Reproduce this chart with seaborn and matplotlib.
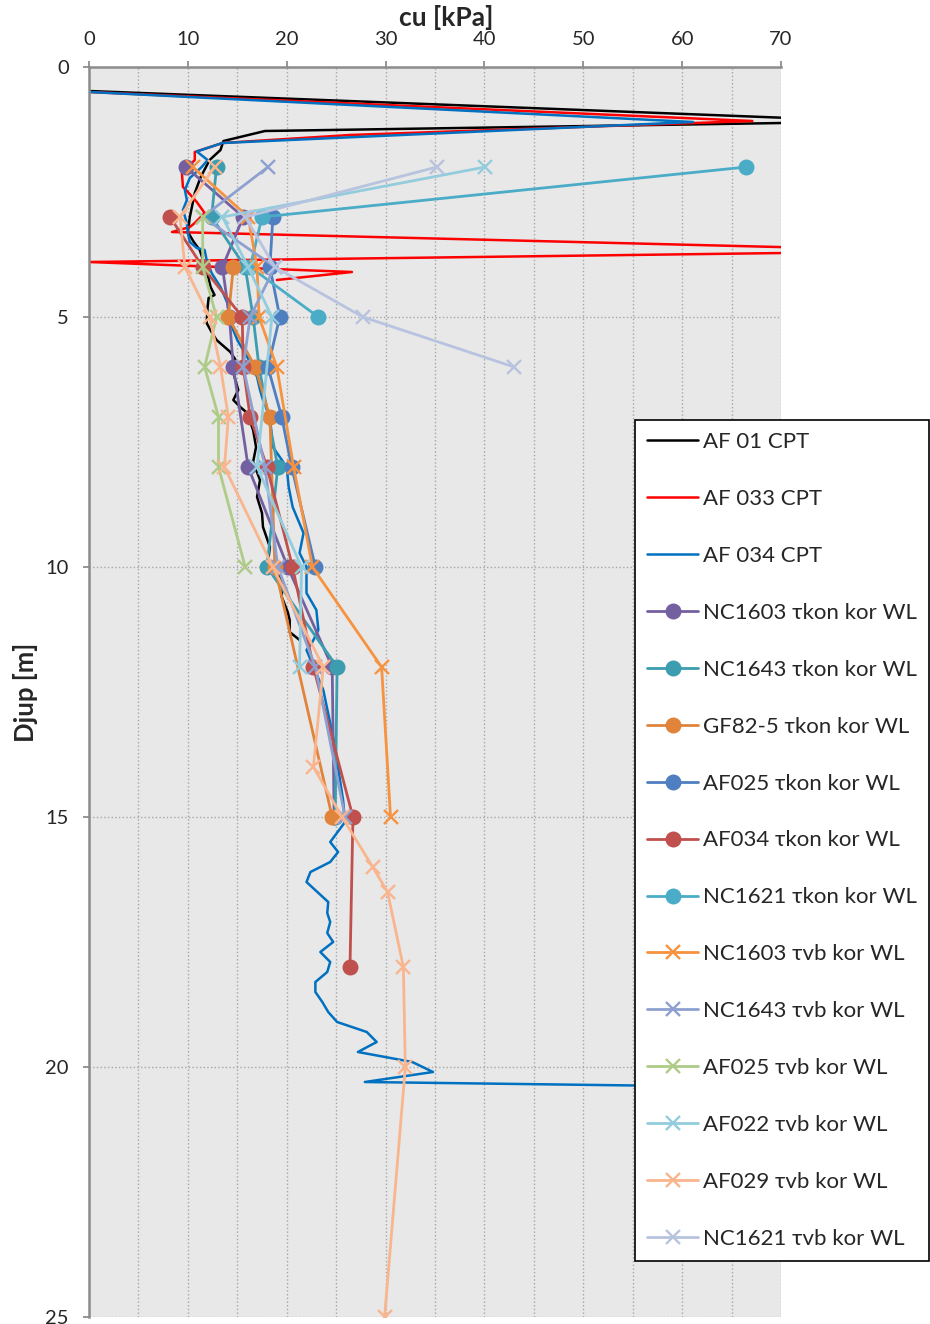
"""
Skjuvhållfasthet cu mot djup - CPT och konförsök / vingförsök
"""

import matplotlib
matplotlib.use('Agg')
import matplotlib.pyplot as plt
import seaborn as sns

# ---- CPT-sonderingar (värde kPa, djup m) ----
af01_cpt_cu = [0, 80, 17.8, 13.6, 13.3, 12.2, 11.3, 10.7, 10.2, 10.0, 10.6, 11.2, 11.6, 12.0,
               12.3, 12.7, 12.1, 12.0, 11.9, 12.4, 12.9, 14.3, 14.8, 14.6, 14.8, 15.1, 14.6,
               15.3, 16.0, 16.6, 16.9, 16.6, 17.3, 17.0, 17.5, 17.6, 18.3, 18.1, 19.5, 19.5,
               20.1, 20.3, 20.3, 21.3]
af01_cpt_djup = [0.48, 1.09, 1.28, 1.48, 1.66, 1.86, 2.2, 2.52, 3.0, 3.3, 3.5, 3.66, 3.9, 4.15,
                 4.4, 4.56, 4.62, 4.8, 5.12, 5.3, 5.46, 5.7, 5.85, 6.1, 6.26, 6.46, 6.66,
                 6.8, 6.92, 7.26, 7.6, 7.9, 8.26, 8.6, 8.92, 9.2, 9.6, 9.9, 10.26, 10.6,
                 10.9, 11.06, 11.3, 11.46]

af033_cpt_cu = [0, 67.1, 26.4, 13.5, 10.7, 10.7, 9.4, 9.5, 10.0, 10.9, 11.7, 10.7, 10.2, 8.4,
                86, 0, 26.6, 19.0]
af033_cpt_djup = [0.5, 1.08, 1.36, 1.52, 1.7, 1.86, 2.12, 2.4, 2.5, 2.7, 2.92, 3.12, 3.2, 3.3,
                  3.68, 3.9, 4.1, 4.26]

af034_cpt_cu = [0, 61.1, 13.5, 10.9, 12.0, 11.4, 10.2, 9.7, 9.9, 9.5, 9.9, 10.0, 10.2, 10.9,
                11.7, 11.9, 12.4, 13.3, 14.0, 14.3, 15.0, 16.0, 17.0, 17.3, 17.6, 18.3, 18.6,
                20.0, 20.2, 20.6, 21.7, 21.3, 22.0, 22.0, 23.0, 23.2, 22.6, 22.0, 23.7, 24.8,
                25.7, 25.9, 24.4, 25.2, 24.4, 22.4, 22.0, 24.2, 24.1, 24.4, 24.1, 24.7, 23.4,
                24.4, 24.1, 22.9, 22.9, 23.6, 24.2, 25.1, 28.1, 29.1, 27.2, 32.7, 34.8, 27.9, 75]
af034_cpt_djup = [0.5, 1.1, 1.52, 1.69, 1.86, 2.0, 2.22, 2.46, 2.66, 2.86, 3.12, 3.32, 3.5, 3.62,
                  3.66, 3.86, 4.12, 4.4, 4.72, 5.12, 5.46, 5.8, 6.2, 6.46, 6.66, 7.0, 7.6,
                  8.0, 8.4, 8.8, 9.32, 9.72, 10.0, 10.52, 10.86, 11.26, 11.5, 11.66, 12.46, 13.5,
                  14.66, 15.1, 15.5, 15.7, 15.9, 16.1, 16.3, 16.7, 16.92, 17.1, 17.32, 17.5, 17.7,
                  17.9, 18.1, 18.3, 18.5, 18.7, 18.9, 19.1, 19.3, 19.5, 19.7, 19.9, 20.1, 20.3, 20.42]

# ---- Konförsök (tkon) ----
nc1603_kon_djup = [2, 3, 4, 5, 6, 8, 10, 12, 15]
nc1603_kon_cu = [9.8, 15.6, 13.5, 14.2, 14.6, 16.1, 20.1, 24.6, 24.8]

nc1643_kon_djup = [2, 3, 4, 5, 6, 8, 10, 12, 15]
nc1643_kon_cu = [12.9, 12.4, 15.8, 16.6, 17.2, 19.1, 18.0, 25.1, 24.9]

gf825_kon_djup = [4, 5, 6, 7, 10, 15]
gf825_kon_cu = [14.6, 14.1, 16.8, 18.3, 18.8, 24.6]

af025_kon_djup = [3, 4, 5, 6, 7, 8, 10]
af025_kon_cu = [18.6, 18.3, 19.3, 18.1, 19.5, 20.5, 22.9]

af034_kon_djup = [3, 4, 5, 6, 7, 8, 10, 12, 15, 18]
af034_kon_cu = [8.2, 11.5, 15.5, 15.6, 16.3, 18.0, 20.6, 22.7, 26.7, 26.4]

nc1621_kon_djup = [2, 3, 4, 5]
nc1621_kon_cu = [66.5, 17.5, 16.3, 23.2]

# ---- Vingförsök (tvb) ----
nc1603_vb_djup = [2, 3, 4, 5, 6, 8, 10, 12, 15]
nc1603_vb_cu = [10.5, 16.1, 17.0, 17.2, 19.0, 20.7, 22.6, 29.6, 30.5]

nc1643_vb_djup = [2, 3, 4, 5, 6, 8, 10, 12, 15]
nc1643_vb_cu = [18.1, 11.5, 18.8, 16.3, 15.6, 17.8, 19.1, 22.9, 25.9]

af025_vb_djup = [3, 4, 5, 6, 7, 8, 10]
af025_vb_cu = [11.5, 11.5, 12.9, 11.7, 13.1, 13.1, 15.8]

af022_vb_djup = [2, 3, 4, 5, 8, 10, 12]
af022_vb_cu = [40.1, 13.5, 16.1, 18.5, 17.0, 21.5, 21.3]

af029_vb_djup = [2, 3, 4, 5, 6, 7, 8, 10, 12, 14, 15, 16, 16.5, 18, 20, 25]
af029_vb_cu = [12.7, 9.2, 9.7, 12.2, 13.3, 14.1, 13.7, 18.6, 23.7, 22.7, 25.6, 28.7, 30.2,
               31.8, 32.0, 29.9]

nc1621_vb_djup = [2, 3, 4, 5, 6]
nc1621_vb_cu = [35.2, 15.8, 18.8, 27.7, 43.0]

x_ticks = [0, 10, 20, 30, 40, 50, 60, 70]
y_ticks = [0, 5, 10, 15, 20, 25]

sns.set_theme(style='white')
plt.rcParams['font.family'] = ['Lato', 'DejaVu Sans']

fig = plt.figure(figsize=(9.3, 13.24), dpi=100)
ax = fig.add_axes([89 / 930, 7 / 1324, 692 / 930, 1250 / 1324])
ax.set_facecolor('#E8E8E8')

# CPT-linjer
cpt = [
    (af01_cpt_cu, af01_cpt_djup, 'AF 01 CPT', 'black'),
    (af033_cpt_cu, af033_cpt_djup, 'AF 033 CPT', '#FF0000'),
    (af034_cpt_cu, af034_cpt_djup, 'AF 034 CPT', '#0070C0'),
]
for cu, djup, namn, farg in cpt:
    sns.lineplot(x=cu, y=djup, sort=False, estimator=None, color=farg,
                 linewidth=1.8, label=namn, ax=ax)

kon = [
    (nc1603_kon_cu, nc1603_kon_djup, 'NC1603 τkon kor WL', '#7460A0'),
    (nc1643_kon_cu, nc1643_kon_djup, 'NC1643 τkon kor WL', '#3C9CB0'),
    (gf825_kon_cu, gf825_kon_djup, 'GF82-5 τkon kor WL', '#E0843B'),
    (af025_kon_cu, af025_kon_djup, 'AF025 τkon kor WL', '#4F7FC0'),
    (af034_kon_cu, af034_kon_djup, 'AF034 τkon kor WL', '#C0504D'),
    (nc1621_kon_cu, nc1621_kon_djup, 'NC1621 τkon kor WL', '#4AACC6'),
]
for cu, djup, namn, farg in kon:
    sns.lineplot(x=cu, y=djup, sort=False, estimator=None, color=farg,
                 linewidth=2.0, marker='o', markersize=11.5, markeredgewidth=0,
                 markerfacecolor=farg, markeredgecolor=farg, label=namn, ax=ax)

vb = [
    (nc1603_vb_cu, nc1603_vb_djup, 'NC1603 τvb kor WL', '#F7923F'),
    (nc1643_vb_cu, nc1643_vb_djup, 'NC1643 τvb kor WL', '#8DA0D0'),
    (af025_vb_cu, af025_vb_djup, 'AF025 τvb kor WL', '#AECB88'),
    (af022_vb_cu, af022_vb_djup, 'AF022 τvb kor WL', '#93CCDD'),
    (af029_vb_cu, af029_vb_djup, 'AF029 τvb kor WL', '#F9B58E'),
    (nc1621_vb_cu, nc1621_vb_djup, 'NC1621 τvb kor WL', '#B8C3DF'),
]
for cu, djup, namn, farg in vb:
    sns.lineplot(x=cu, y=djup, sort=False, estimator=None, color=farg,
                 linewidth=2.0, marker='x', markersize=10.5, markeredgewidth=1.7,
                 markeredgecolor=farg, label=namn, ax=ax)

# axlar
ax.set_xlim(0, 70)
ax.set_ylim(25, 0)
ax.xaxis.tick_top()
ax.set_xticks(x_ticks)
ax.set_xticks([5, 15, 25, 35, 45, 55, 65], minor=True)
ax.set_yticks(y_ticks)
ax.set_xlabel('')
ax.set_ylabel('')
ax.grid(True, which='both', linestyle=':', color='#A6A6A6', linewidth=1.0)
ax.set_axisbelow(True)
for s in ['right', 'bottom']:
    ax.spines[s].set_visible(False)
for s in ['left', 'top']:
    ax.spines[s].set_color('#8C8C8C')
    ax.spines[s].set_linewidth(1.8)
ax.tick_params(axis='x', which='major', direction='out', length=4.5, width=1.3,
               color='#8C8C8C', labelsize=14.5, pad=9, top=True, bottom=False)
ax.tick_params(axis='x', which='minor', length=0)
ax.tick_params(axis='y', which='major', direction='out', length=4.5, width=1.3,
               color='#8C8C8C', labelsize=14.5, pad=10, left=True)

fig.text(446 / 930, 1 - 18 / 1324, 'cu [kPa]', ha='center', va='center',
         fontsize=19, fontweight='bold')
fig.text(25 / 930, 1 - 692 / 1324, 'Djup [m]', ha='center', va='center',
         rotation=90, fontsize=18.5, fontweight='bold')

handles, labels = ax.get_legend_handles_labels()
leg = ax.legend(handles, labels, loc='upper left',
                bbox_to_anchor=(635 / 930, 1 - 420 / 1324), bbox_transform=fig.transFigure,
                frameon=True, fancybox=False, edgecolor='black', framealpha=1,
                facecolor='white', fontsize=16, labelspacing=1.66, handlelength=2.3,
                handletextpad=0.2, borderpad=0.55, borderaxespad=0)
leg.get_frame().set_linewidth(1.2)
leg.set_zorder(10)

fig.savefig('out.png', dpi=100)
